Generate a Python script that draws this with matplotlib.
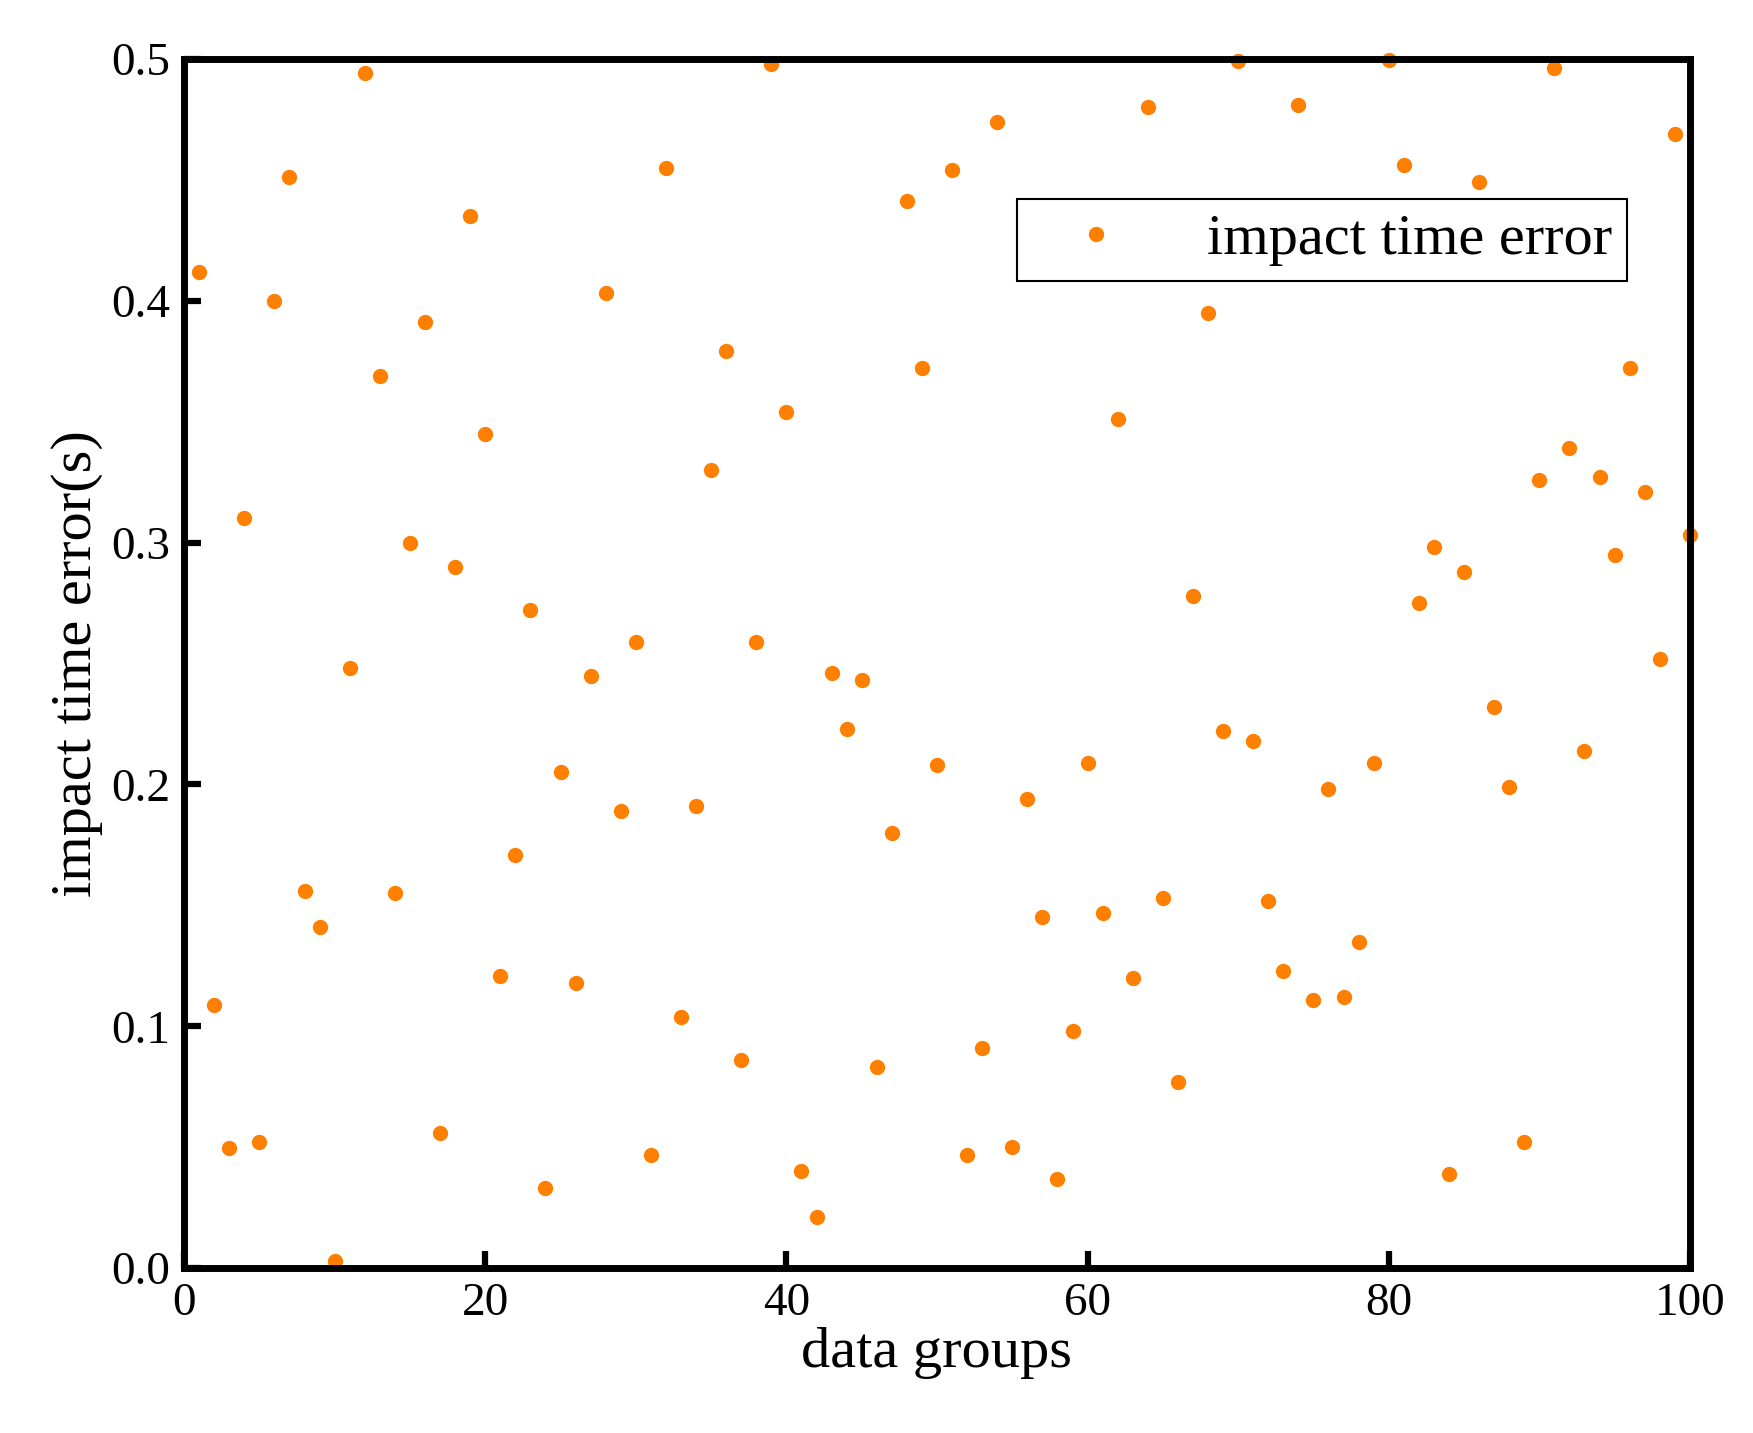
import matplotlib
matplotlib.use('Agg')
from matplotlib import pyplot as plt
import numpy as np

plt.rcParams['font.family'] = ['Liberation Serif', 'DejaVu Serif']

groups = np.arange(1, 101)
errors = [0.412, 0.109, 0.0495, 0.310, 0.052, 0.400, 0.451, 0.156, 0.141, 0.003,
          0.248, 0.494, 0.369, 0.155, 0.300, 0.391, 0.056, 0.290, 0.435, 0.345,
          0.121, 0.171, 0.272, 0.033, 0.205, 0.118, 0.245, 0.403, 0.189, 0.259,
          0.047, 0.455, 0.104, 0.191, 0.330, 0.379, 0.086, 0.259, 0.498, 0.354,
          0.040, 0.021, 0.246, 0.223, 0.243, 0.083, 0.180, 0.441, 0.372, 0.208,
          0.454, 0.047, 0.091, 0.474, 0.050, 0.194, 0.145, 0.037, 0.098, 0.209,
          0.147, 0.351, 0.120, 0.480, 0.153, 0.077, 0.278, 0.395, 0.222, 0.499,
          0.218, 0.152, 0.123, 0.481, 0.111, 0.198, 0.112, 0.135, 0.209, 0.4995,
          0.456, 0.275, 0.298, 0.039, 0.288, 0.449, 0.232, 0.199, 0.052, 0.326,
          0.496, 0.339, 0.214, 0.327, 0.295, 0.372, 0.321, 0.252, 0.469, 0.303]

fig = plt.figure(figsize=(17.53, 14.33), dpi=100)
ax = fig.add_axes([0.105, 0.115, 0.859, 0.844])
ax.plot(groups, errors, 'o', color='#ff8000', markersize=10, clip_on=False,
        label='impact time error')

ax.set_xlim(0, 100)
ax.set_ylim(0, 0.5)
ax.set_xticks([0, 20, 40, 60, 80, 100])
ax.set_yticks([0.0, 0.1, 0.2, 0.3, 0.4, 0.5])
ax.yaxis.set_major_formatter(matplotlib.ticker.FormatStrFormatter('%.1f'))
ax.tick_params(direction='in', length=12, width=4.5, labelsize=34, pad=10)
for s in ax.spines.values():
    s.set_linewidth(5)

ax.set_xlabel('data groups', fontsize=42, labelpad=2)
ax.set_ylabel('impact time error(s)', fontsize=42, labelpad=6)

leg = ax.legend(loc='upper right', bbox_to_anchor=(0.958, 0.884), fontsize=42,
                fancybox=False, framealpha=1, edgecolor='black',
                handlelength=2.2, handletextpad=0.8, borderpad=0.25,
                borderaxespad=0)
leg.get_frame().set_linewidth(1.5)

fig.savefig('out.png', dpi=100)
